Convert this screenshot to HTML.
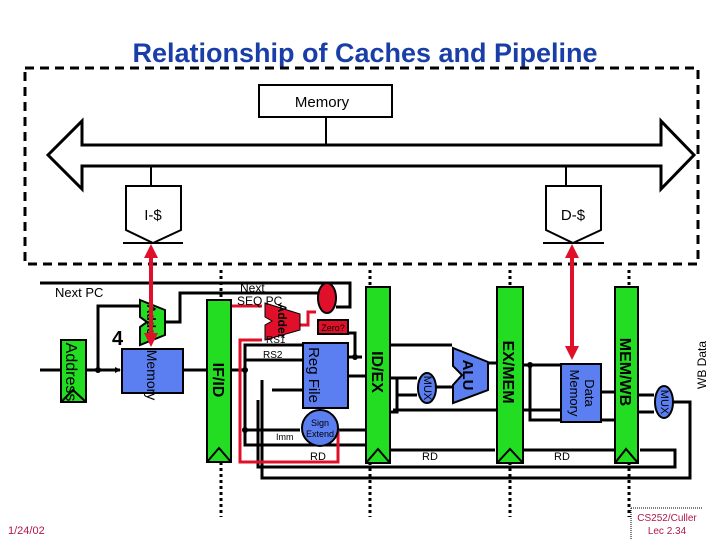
<!DOCTYPE html>
<html><head><style>
body{margin:0;background:#fff;width:720px;height:540px;overflow:hidden}
svg{display:block}
text{font-family:"Liberation Sans",sans-serif}
</style></head><body>
<svg width="720" height="540" viewBox="0 0 720 540" xmlns="http://www.w3.org/2000/svg">
<defs>
<marker id="a" markerWidth="6" markerHeight="6" refX="5" refY="3" orient="auto" markerUnits="userSpaceOnUse"><path d="M0,0L6,3L0,6z" fill="#000"/></marker>
</defs>
<text x="365" y="62" font-size="27" fill="#1a3ea8" text-anchor="middle" font-weight="bold">Relationship of Caches and Pipeline</text>
<rect x="25" y="68" width="673" height="196" fill="none" stroke="#000" stroke-width="3" stroke-dasharray="9,6"/>
<rect x="259" y="85" width="133" height="32" fill="#fff" stroke="#000" stroke-width="2"/>
<text x="322" y="107" font-size="15" text-anchor="middle">Memory</text>
<line x1="326" y1="117" x2="326" y2="145" stroke="#000" stroke-width="2"/>
<path d="M48,155 L82,121 L82,145 L661,145 L661,121 L694,155 L661,189 L661,166 L82,166 L82,189 Z" fill="#fff" stroke="#000" stroke-width="3"/>
<line x1="151" y1="166" x2="151" y2="186" stroke="#000" stroke-width="2"/>
<line x1="566" y1="166" x2="566" y2="186" stroke="#000" stroke-width="2"/>
<path d="M126,186 H181 V230 L153,243 L126,230 Z" fill="#fff" stroke="#000" stroke-width="2"/>
<line x1="123" y1="243" x2="183" y2="243" stroke="#000" stroke-width="2"/>
<text x="153" y="220" font-size="15" text-anchor="middle">I-$</text>
<path d="M546,186 H601 V230 L573,243 L546,230 Z" fill="#fff" stroke="#000" stroke-width="2"/>
<line x1="543" y1="243" x2="604" y2="243" stroke="#000" stroke-width="2"/>
<text x="573" y="220" font-size="15" text-anchor="middle">D-$</text>
<g stroke="#000" stroke-width="3" stroke-dasharray="3,3">
<line x1="221" y1="270" x2="221" y2="517"/><line x1="370" y1="270" x2="370" y2="517"/>
<line x1="510" y1="270" x2="510" y2="517"/><line x1="629" y1="270" x2="629" y2="517"/>
</g>
<g stroke="#000" stroke-width="3" fill="none">
<path d="M40,283 H350 V307 H336"/>
<path d="M40,370 H60"/>
<path d="M86,370 H120" marker-end="url(#a)"/>
<path d="M98,370 V306 H140"/>
<path d="M165,322 H180 V293 H318"/>
<path d="M183,370 H207"/>
<path d="M231,370 H245 V345 H302 M245,360 H302 M245,370 V430 H300 M245,430 V445 H365"/>
<path d="M262,380 V478 H690 V402 H673"/>
<path d="M272,390 H302 M258,400 V467 H675 V450 H640"/>
<path d="M348,357 H362 M355,357 V333 H349 M348,376 H366"/>
<path d="M338,430 H365"/>
<path d="M390,345 H452"/>
<path d="M390,378 H417 M397,378 V395 H417 M397,395 V412 H390"/>
<path d="M436,387 H452"/>
<path d="M488,363 H497"/>
<path d="M523,365 H560 M530,365 V420 H615 M393,410 H560"/>
<path d="M601,392 H614 M638,395 H654 M638,412 H654"/>
<path d="M390,450 H495 M523,450 H614"/>
</g>
<circle cx="98" cy="370" r="3"/><circle cx="245" cy="370" r="3"/><circle cx="245" cy="430" r="3"/><circle cx="355" cy="357" r="3"/><circle cx="530" cy="365" r="3"/>
<g stroke="#e0102a" stroke-width="3" fill="none">
<path d="M231,306 H262"/>
<path d="M300,325 H308 V312 H316"/>
<path d="M338,430 V462 H240 V340 H262"/>
</g>
<g fill="#22dd22" stroke="#000" stroke-width="2">
<rect x="207" y="300" width="24" height="162"/>
<rect x="366" y="287" width="24" height="176"/>
<rect x="497" y="287" width="26" height="176"/>
<rect x="615" y="287" width="23" height="176"/>
<rect x="61" y="340" width="25" height="62"/>
</g>
<g fill="none" stroke="#000" stroke-width="2">
<path d="M207,462 L219,448 L231,462"/><path d="M366,463 L378,449 L390,463"/><path d="M497,463 L510,449 L523,463"/><path d="M615,463 L626,449 L638,463"/><path d="M61,402 L73,390 L86,402"/>
</g>
<g font-size="16" font-weight="bold">
<text transform="translate(213,380) rotate(90)" text-anchor="middle">IF/ID</text>
<text transform="translate(372,372) rotate(90)" text-anchor="middle">ID/EX</text>
<text transform="translate(503,372) rotate(90)" text-anchor="middle">EX/MEM</text>
<text transform="translate(620,372) rotate(90)" text-anchor="middle">MEM/WB</text>
</g>
<text transform="translate(66,372) rotate(90)" font-size="16" text-anchor="middle">Address</text>
<path d="M140,300 L165,310 V335 L140,345 V327 L147,322 L140,317 Z" fill="#22dd22" stroke="#000" stroke-width="2"/>
<text transform="translate(147,322) rotate(90)" font-size="12" font-weight="bold" text-anchor="middle">Adder</text>
<text x="112" y="345" font-size="20" font-weight="bold">4</text>
<path d="M265,303 L300,314 V330 L265,340 V325 L272,321 L265,317 Z" fill="#e0102a" stroke="#000" stroke-width="1"/>
<text transform="translate(278,321) rotate(90)" font-size="12" font-weight="bold" text-anchor="middle">Adder</text>
<rect x="122" y="349" width="61" height="44" fill="#5b7ff0" stroke="#000" stroke-width="2"/>
<text transform="translate(147,375) rotate(90)" font-size="14" text-anchor="middle">Memory</text>
<ellipse cx="327" cy="298" rx="9" ry="15" fill="#e0102a" stroke="#000" stroke-width="2"/>
<rect x="318" y="320" width="30" height="14" fill="#e0102a" stroke="#000" stroke-width="2"/>
<text x="333" y="331" font-size="9" text-anchor="middle">Zero?</text>
<text x="240" y="292" font-size="12">Next</text>
<text x="237" y="305" font-size="12">SEQ PC</text>
<text x="55" y="297" font-size="13">Next PC</text>
<text x="266" y="343" font-size="10">RS1</text>
<text x="263" y="358" font-size="10">RS2</text>
<text x="276" y="440" font-size="9">Imm</text>
<rect x="303" y="343" width="45" height="65" fill="#5b7ff0" stroke="#000" stroke-width="2"/>
<text transform="translate(309,375) rotate(90)" font-size="15" text-anchor="middle">Reg File</text>
<circle cx="320" cy="428" r="18" fill="#5b7ff0" stroke="#000" stroke-width="2"/>
<text x="320" y="426" font-size="9" text-anchor="middle">Sign</text>
<text x="320" y="437" font-size="9" text-anchor="middle">Extend</text>
<text x="318" y="460" font-size="11" text-anchor="middle">RD</text>
<text x="430" y="460" font-size="11" text-anchor="middle">RD</text>
<text x="562" y="460" font-size="11" text-anchor="middle">RD</text>
<ellipse cx="427" cy="388" rx="9" ry="15" fill="#5b7ff0" stroke="#000" stroke-width="2"/>
<text transform="translate(424,388) rotate(90)" font-size="11" text-anchor="middle">MUX</text>
<path d="M453,348 L488,362 V390 L453,403 V385 L462,375 L453,366 Z" fill="#5b7ff0" stroke="#000" stroke-width="2"/>
<text transform="translate(463,375) rotate(90)" font-size="15" font-weight="bold" text-anchor="middle">ALU</text>
<rect x="561" y="364" width="40" height="58" fill="#5b7ff0" stroke="#000" stroke-width="2"/>
<text transform="translate(585,393) rotate(90)" font-size="13" text-anchor="middle">Data</text>
<text transform="translate(570,393) rotate(90)" font-size="13" text-anchor="middle">Memory</text>
<ellipse cx="664" cy="402" rx="9" ry="16" fill="#5b7ff0" stroke="#000" stroke-width="2"/>
<text transform="translate(661,402) rotate(90)" font-size="11" text-anchor="middle">MUX</text>
<text transform="translate(706,365) rotate(-90)" font-size="12" text-anchor="middle">WB Data</text>
<g stroke="#e0102a" stroke-width="4">
<line x1="151" y1="256" x2="151" y2="335"/>
<line x1="572" y1="256" x2="572" y2="348"/>
</g>
<g fill="#e0102a">
<path d="M151,244 L144,258 H158Z"/><path d="M151,347 L144,333 H158Z"/>
<path d="M572,244 L565,258 H579Z"/><path d="M572,360 L565,346 H579Z"/>
</g>
<text x="8" y="534" font-size="11" fill="#b0184a">1/24/02</text>
<line x1="631" y1="508" x2="631" y2="540" stroke="#000" stroke-dasharray="1,1"/>
<line x1="631" y1="508" x2="703" y2="508" stroke="#000" stroke-dasharray="1,1"/>
<text x="667" y="521" font-size="10" fill="#b0184a" text-anchor="middle">CS252/Culler</text>
<text x="667" y="534" font-size="10" fill="#b0184a" text-anchor="middle">Lec 2.34</text>
</svg>
</body></html>
